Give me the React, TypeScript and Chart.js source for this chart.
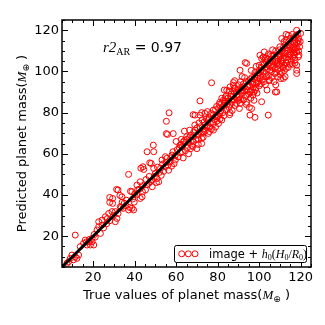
import React, { useEffect, useRef } from 'react';
import { Chart, registerables } from 'chart.js';

Chart.register(...registerables);

// ---- data ----
const axisMin = 5;
const axisMax = 125;
const tickValues = [20, 40, 60, 80, 100, 120];
const minorStep = 5;
const fitLineX = [5, 120];
const scoreLabel = '0.97';
const legendLabel = 'image + ';

// [true mass, predicted mass]
const scatterPoints: [number, number][] = [
  // low range
  [7.4, 6.8], [8.2, 7.6], [9, 9.2], [9.8, 10.8], [11.4, 10], [12.2, 9.2], [13, 10.8], [10.5, 8.5],
  [11.4, 20.5], [13.8, 14.9], [15.4, 16.5], [16.2, 18.1], [17, 15.7], [17.9, 17.3], [18.7, 15.7],
  [19.5, 17.3], [20.3, 15.7], [19.5, 18.9], [16.8, 17.2], [18.2, 18.4], [21, 19.5], [20.5, 20.8],
  [22.7, 24.6], [21.9, 23], [23.5, 21.3], [22.7, 27], [24.3, 27.8], [24.3, 25.4], [25.9, 29.4],
  [27.5, 31], [29.1, 31.9], [30.7, 31.9], [30.7, 27], [31.5, 28.6], [26.5, 26], [28, 27.5],
  [33.1, 34.3], [37.1, 32.7], [39.5, 32.7], [38.7, 33.5], [29.4, 38.3], [29.4, 35.9], [33.9, 39.1],
  [32, 42.4], [35, 36], [36, 37.5], [34.5, 33.5], [31.3, 42.7], [32.9, 39.8], [28, 38.8], [28, 36.4],
  [37.6, 33.9], [33.5, 33.9],
  [25, 24], [26.8, 28.5], [29.8, 30], [32, 31], [34, 36.5], [35.8, 34.8], [39.8, 36.5],
  // middle range
  [38.7, 41.6], [37.1, 50], [43.6, 39.1], [42.7, 38.3], [45.2, 42.4], [42.7, 46.4], [41.1, 44.8],
  [46.8, 45.6], [48.4, 47.2], [50.8, 48], [51.6, 46.4], [44, 53.7], [44.4, 52.4], [48, 55.3],
  [49.2, 52.9], [46, 61], [49.2, 61], [53.2, 57], [54.8, 58.6], [58, 59.4], [59.6, 57], [56.4, 52],
  [54.8, 53.7], [40, 40.5], [41.5, 42.5], [44, 44.5], [47, 49], [52, 51], [53.5, 55], [57, 56],
  [55.5, 57.8], [50, 50.5], [45.5, 47.5], [48.5, 44], [52.8, 49.5], [56, 54.5], [58.5, 61], [59, 55.2],
  [43, 53], [47.3, 55.6], [49, 64.2], [55.3, 75.8], [55.8, 69.4], [56.6, 79.9], [55.3, 69.8],
  [58.6, 69.8], [38, 41.8], [39, 38], [51, 53.5], [57.5, 58],
  [41, 40], [42.2, 42.8], [43.8, 41.5], [46, 45], [47.5, 46.5], [49.5, 49], [50.5, 46], [52.5, 53],
  [54, 51.5], [55, 55.8], [57.8, 54], [59.5, 59],
  // 60 - 80
  [61.9, 64.2], [63.5, 65.8], [65.1, 68.3], [68.3, 65.8], [68.3, 68.3], [69.1, 71.5], [71.5, 73.1],
  [72.3, 69.9], [72.3, 67.5], [72.3, 65], [75.5, 69.9], [76.3, 73.1], [77.9, 74.7], [80.4, 74.7],
  [82, 76.4], [69.1, 78.8], [71.5, 78.8], [73.9, 79.6], [77.9, 81.2], [79.5, 77.9], [71.5, 85.7],
  [77.1, 94.5], [63.4, 58], [70.7, 64.5], [68.2, 79], [72.3, 80], [81.2, 77],
  [60.5, 62], [62, 60.5], [63, 63.5], [64, 66.5], [65.5, 63], [66, 65.5], [67, 69], [67.5, 64],
  [68.5, 70.5], [69.5, 67], [70, 72.5], [70.5, 69], [71, 75], [73, 72], [73.5, 75.5], [74, 71],
  [74.5, 77], [75, 73.5], [76, 77.5], [76.5, 75], [77, 72], [78, 79], [78.5, 76.5], [79, 81.5],
  [80, 78], [60, 66], [61, 58.5], [62.5, 67], [64.5, 61.5], [66.5, 71.5], [67, 62.5], [70, 62.5],
  [73, 68], [75, 80.5], [78, 71.5], [79.5, 83], [64, 71], [66, 60],
  [61.5, 63], [63, 61], [65, 67], [66.5, 68], [68, 63.5], [69, 74], [71, 70.5], [72.5, 76.5],
  [74, 74], [75.5, 76.5], [76.8, 79.5], [78.8, 78], [79.8, 76], [62.5, 64.5], [67.8, 66.5],
  [70.8, 67], [73.2, 70.5], [76, 70.8], [79, 73],
  // 80 - 100
  [82.8, 86.1], [82, 84.5], [86.8, 86.1], [84.4, 90.9], [86, 92.5], [87.6, 93.3], [88.4, 91.7],
  [90.8, 84.5], [92.4, 86.1], [94, 88.5], [95.6, 90.1], [97.2, 92.5], [98.8, 94.1], [100.4, 96.6],
  [90.8, 100.6], [94, 103.9], [93.3, 104.3], [87.6, 94.6], [95.6, 78.8], [98, 77.7], [96.4, 82],
  [95.3, 82.5], [101.2, 85.3], [82, 87],
  [80.5, 82], [81, 79.5], [81.5, 81], [82.5, 80], [83, 83.5], [83.5, 85.5], [84, 81.5], [84.5, 84],
  [85, 87], [85.5, 82.5], [86, 84], [86.5, 89], [87, 85], [87.5, 88], [88, 86.5], [88.5, 83.5],
  [89, 90], [89.5, 87.5], [90, 91.5], [90.5, 88], [91, 86.5], [91.5, 92], [92, 89.5], [92.5, 94],
  [93, 90.5], [93.5, 88], [94.5, 92.5], [95, 95.5], [95, 89], [95.5, 93], [96, 91], [96.5, 97],
  [97, 94.5], [97.5, 90], [98, 96], [98.5, 92], [99, 98.5], [99.5, 95], [100, 93], [81, 85],
  [83, 78.5], [85.5, 90.5], [87, 81], [89, 84.5], [91, 95], [93, 97], [94, 85], [96, 87],
  [98, 99.5], [99, 89.5], [84, 88], [86, 80], [88, 92], [90, 93.5], [92, 91], [97, 88.5], [100, 100.5],
  [80.8, 84], [82.2, 82.5], [83.8, 87.2], [85.2, 85.5], [86.2, 87.8], [87.8, 90.2], [89.2, 88.8],
  [90.2, 86], [91.2, 90.5], [92.8, 92.5], [93.8, 95], [94.2, 91.2], [95.8, 96.2], [96.8, 93.8],
  [97.8, 97.5], [98.2, 91], [99.2, 96.8], [99.8, 99.5], [83.2, 91], [88.2, 95.5], [91.8, 97.5],
  [96.2, 100.5], [98.6, 102.5], [85.8, 79], [90.5, 82], [93.8, 84], [97.5, 86],
  // 100 - 120
  [100.4, 107.9], [101.2, 106.3], [102.8, 105.5], [103.6, 102.2], [105.2, 100.6], [107.7, 101.4],
  [111.7, 96.6], [108.5, 90.1], [104.4, 78.8], [103.6, 97.4], [110.1, 107.1], [111.7, 108.7],
  [114.9, 107.9], [114.1, 110.3], [112.5, 112.8], [118.9, 107.1], [117.3, 105.5], [118.1, 103],
  [118.1, 100.6], [118.1, 99], [118.1, 109.5], [116.5, 112], [118.9, 113.6], [117.3, 115.2],
  [110.9, 116], [114.1, 117.6], [118.1, 120], [113, 118], [110.4, 96.5], [107.8, 90], [105.4, 108.2],
  [100.5, 98], [101, 102], [101.5, 96], [102, 100], [102.5, 103.5], [103, 99], [103.5, 104.5],
  [104, 101], [104.5, 98], [105, 104], [105.5, 102.5], [106, 97], [106.5, 105], [107, 103],
  [107.5, 99], [108, 106], [108.5, 104], [109, 101], [109.5, 108.5], [110, 103.5], [110.5, 105.5],
  [111, 110], [111.5, 102], [112, 106.5], [112.5, 109], [113, 104], [113.5, 111.5], [114, 107],
  [114.5, 113], [115, 110.5], [115.5, 105], [116, 114.5], [116.5, 109], [117, 116.5], [117.5, 111],
  [118, 114], [118.5, 118], [119, 116], [119.5, 112], [120, 118.5], [101, 94], [102, 107],
  [103, 93.5], [104, 106], [106, 100], [107, 108], [109, 97.5], [110, 112], [111, 99.5],
  [112, 114.5], [113, 101.5], [115, 116], [116, 103.5], [117, 108], [119, 110], [105, 96],
  [108, 110], [111, 104], [114, 102], [116, 118], [100, 103], [102, 97.5], [106, 107.5], [109, 105],
  [112, 103], [115, 112], [117, 113.5], [113, 115.5], [110, 100],
  [100.8, 100], [101.8, 103.8], [102.2, 95], [103.2, 106.5], [104.2, 103.2], [104.8, 95.5],
  [105.8, 106], [106.2, 102], [107.2, 95], [107.8, 104.8], [108.2, 99.5], [108.8, 107.5],
  [109.2, 103], [109.8, 110.5], [110.2, 98.5], [110.8, 107.8], [111.2, 105], [111.8, 112],
  [112.2, 100.5], [112.8, 107], [113.2, 110], [113.8, 105.5], [114.2, 114.5], [114.8, 103.5],
  [115.2, 108.5], [115.8, 111.5], [116.2, 107], [116.8, 110.5], [117.2, 104], [117.8, 117.5],
  [118.2, 111.5], [118.8, 115], [119.2, 108], [119.8, 114.5], [106.5, 110.5], [104.5, 108.5],
  [102.5, 109.5], [103.8, 91], [108, 93.5], [112.5, 97.5],
];

const RED = '#ff0000';
const SANS = '"DejaVu Sans"';
const SERIF = '"Liberation Serif"';

type Seg = { t: string; f: string; dy?: number };

function drawRich(ctx: CanvasRenderingContext2D, segs: Seg[], x: number, y: number, align: 'left' | 'center') {
  let w = 0;
  for (const s of segs) {
    ctx.font = s.f;
    w += ctx.measureText(s.t).width;
  }
  let cx = align === 'center' ? x - w / 2 : x;
  ctx.textAlign = 'left';
  ctx.textBaseline = 'alphabetic';
  for (const s of segs) {
    ctx.font = s.f;
    ctx.fillText(s.t, cx, y + (s.dy || 0));
    cx += ctx.measureText(s.t).width;
  }
}

const decorPlugin = {
  id: 'decor',
  afterDatasetsDraw(chart: any) {
    const { ctx, chartArea: a, scales } = chart;
    const xs = scales.x;
    const ys = scales.y;
    ctx.save();
    ctx.strokeStyle = '#000';
    ctx.fillStyle = '#000';
    // inward ticks on all four sides
    for (let v = axisMin; v <= axisMax; v += minorStep) {
      const major = tickValues.includes(v);
      const len = major ? 6 : 3;
      ctx.lineWidth = 1;
      const px = Math.round(xs.getPixelForValue(v)) + 0.5;
      const py = Math.round(ys.getPixelForValue(v)) + 0.5;
      ctx.beginPath();
      ctx.moveTo(px, a.bottom);
      ctx.lineTo(px, a.bottom - len);
      ctx.moveTo(px, a.top);
      ctx.lineTo(px, a.top + len);
      ctx.moveTo(a.left, py);
      ctx.lineTo(a.left + len, py);
      ctx.moveTo(a.right, py);
      ctx.lineTo(a.right - len, py);
      ctx.stroke();
    }
    ctx.lineWidth = 1.5;
    ctx.strokeRect(a.left, a.top, a.right - a.left, a.bottom - a.top);

    // axis titles
    const cxMid = (a.left + a.right) / 2;
    const cyMid = (a.top + a.bottom) / 2;
    drawRich(ctx, [
      { t: 'True values of planet mass(', f: `13px ${SANS}` },
      { t: 'M', f: `italic 13px ${SERIF}` },
      { t: '\u2295', f: `9px ${SANS}`, dy: 3 },
      { t: ' )', f: `13px ${SANS}` },
    ], cxMid, 299, 'center');

    ctx.save();
    ctx.translate(26, cyMid);
    ctx.rotate(-Math.PI / 2);
    drawRich(ctx, [
      { t: 'Predicted planet mass(', f: `13px ${SANS}` },
      { t: 'M', f: `italic 13px ${SERIF}` },
      { t: '\u2295', f: `9px ${SANS}`, dy: 3 },
      { t: ' )', f: `13px ${SANS}` },
    ], 0, 0, 'center');
    ctx.restore();

    // score annotation
    drawRich(ctx, [
      { t: 'r2', f: `italic 15px ${SERIF}` },
      { t: 'AR', f: `10px ${SERIF}`, dy: 3 },
      { t: ' = ' + scoreLabel, f: `14px ${SANS}` },
    ], 103, 52, 'left');

    // legend
    const lx = 174.5, ly = 245.5, lw = 132, lh = 17;
    ctx.beginPath();
    ctx.roundRect(lx, ly, lw, lh, 2);
    ctx.fillStyle = '#fff';
    ctx.fill();
    ctx.lineWidth = 1;
    ctx.strokeStyle = '#000';
    ctx.stroke();
    ctx.strokeStyle = RED;
    for (const mx of [181.7, 188.3, 195]) {
      ctx.beginPath();
      ctx.arc(mx, 253.8, 3, 0, Math.PI * 2);
      ctx.stroke();
    }
    ctx.fillStyle = '#000';
    drawRich(ctx, [
      { t: legendLabel, f: `11.5px ${SANS}` },
      { t: 'h', f: `italic 12px ${SERIF}` },
      { t: '0', f: `8px ${SERIF}`, dy: 2 },
      { t: '(', f: `12px ${SERIF}` },
      { t: 'H', f: `italic 12px ${SERIF}` },
      { t: '0', f: `8px ${SERIF}`, dy: 2 },
      { t: '/', f: `12px ${SERIF}` },
      { t: 'R', f: `italic 12px ${SERIF}` },
      { t: '0', f: `8px ${SERIF}`, dy: 2 },
      { t: ')', f: `12px ${SERIF}` },
    ], 209, 257.5, 'left');
    ctx.restore();
  },
};

export default function App() {
  const ref = useRef<HTMLCanvasElement | null>(null);
  useEffect(() => {
    document.body.style.margin = '0';
    const canvas = ref.current;
    if (!canvas) return;
    const chart = new Chart(canvas, {
      type: 'scatter',
      data: {
        datasets: [
          {
            type: 'scatter',
            data: scatterPoints.map(([x, y]) => ({ x, y })),
            borderColor: RED,
            backgroundColor: 'rgba(0,0,0,0)',
            pointRadius: 3,
            borderWidth: 1,
            pointBorderWidth: 1,
            order: 1,
          },
          {
            type: 'line',
            data: fitLineX.map((v) => ({ x: v, y: v })),
            borderColor: '#000',
            borderWidth: 3,
            pointRadius: 0,
            fill: false,
            order: 0,
          } as any,
        ],
      },
      options: {
        responsive: false,
        animation: false,
        devicePixelRatio: 1,
        layout: { padding: { top: 20, right: 14, left: 0, bottom: 0 } },
        plugins: { legend: { display: false }, tooltip: { enabled: false } },
        scales: {
          x: {
            type: 'linear',
            min: axisMin,
            max: axisMax,
            grid: { display: false, drawTicks: false },
            border: { display: false },
            afterBuildTicks: (s: any) => {
              s.ticks = tickValues.map((v) => ({ value: v }));
            },
            afterFit: (s: any) => {
              s.height = 58;
            },
            ticks: {
              color: '#000',
              font: { family: 'DejaVu Sans', size: 13 },
              padding: 3,
              maxRotation: 0,
              autoSkip: false,
            },
          },
          y: {
            type: 'linear',
            min: axisMin,
            max: axisMax,
            grid: { display: false, drawTicks: false },
            border: { display: false },
            afterBuildTicks: (s: any) => {
              s.ticks = tickValues.map((v) => ({ value: v }));
            },
            afterFit: (s: any) => {
              s.width = 62;
            },
            ticks: {
              color: '#000',
              font: { family: 'DejaVu Sans', size: 13 },
              padding: 3,
              autoSkip: false,
            },
          },
        },
      },
      plugins: [decorPlugin],
    });
    return () => chart.destroy();
  }, []);
  return (
    <canvas
      ref={ref}
      width={325}
      height={325}
      style={{ position: 'absolute', left: 0, top: 0, width: 325, height: 325 }}
    />
  );
}
